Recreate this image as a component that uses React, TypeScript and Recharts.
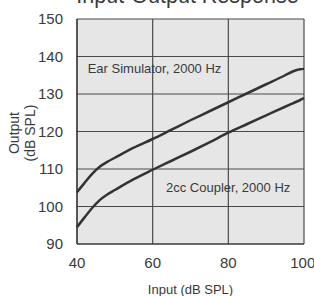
import { LineChart, Line, XAxis, YAxis, CartesianGrid, ReferenceDot } from 'recharts'

const inputLevels = [40, 42, 44, 46, 48, 50, 55, 60, 65, 70, 75, 80, 85, 90, 95, 97, 99, 100]
const earSimulator = [103.8, 106.3, 108.7, 110.6, 111.9, 113, 115.7, 118, 120.5, 123, 125.4, 127.8, 130.2, 132.6, 135, 136, 136.6, 136.7]
const coupler2cc = [94.5, 97.1, 99.6, 101.7, 103.2, 104.4, 107.3, 109.8, 112.2, 114.6, 117.1, 119.7, 122, 124.3, 126.6, 127.5, 128.4, 128.9]
const xTicks = [40, 60, 80, 100]
const yTicks = [90, 100, 110, 120, 130, 140, 150]

const data = inputLevels.map((x, i) => ({ x, ear: earSimulator[i], coupler: coupler2cc[i] }))

const FONT = '"Liberation Sans", Arial, sans-serif'
const TXT = '#3a3a3a'

export default function App() {
  return (
    <div style={{ position: 'fixed', left: 0, top: 0, width: 314, height: 296, background: '#fff', fontFamily: FONT }}>
      <LineChart width={314} height={296} data={data} margin={{ top: 19, right: 10, bottom: 0, left: 0 }}>
        <text x={187.5} y={3} textAnchor="middle" fontSize={21.5} fill={TXT} fontFamily={FONT}>
          Input-Output Response
        </text>
        <CartesianGrid stroke="#4a4a4a" strokeWidth={1.2} fill="#e6e6e6" fillOpacity={1} />
        <XAxis
          dataKey="x"
          type="number"
          domain={[40, 100]}
          ticks={xTicks}
          height={52}
          tickSize={0}
          tickMargin={13}
          axisLine={{ stroke: '#333', strokeWidth: 1.2 }}
          tickLine={false}
          tick={{ fill: TXT, fontSize: 15, fontFamily: FONT }}
          label={{ value: 'Input (dB SPL)', position: 'insideBottom', offset: 2, fill: TXT, fontSize: 13, fontFamily: FONT }}
        />
        <YAxis
          type="number"
          domain={[90, 150]}
          ticks={yTicks}
          width={77}
          tickSize={0}
          tickMargin={14}
          axisLine={{ stroke: '#333', strokeWidth: 1.2 }}
          tickLine={false}
          tick={{ fill: TXT, fontSize: 15, fontFamily: FONT }}
          label={() => (
            <text transform="rotate(-90, 22, 133)" x={22} y={133} textAnchor="middle" fontSize={14} fill={TXT} fontFamily={FONT}>
              <tspan x={22} dy="-0.2em">Output</tspan>
              <tspan x={22} dy="1.1em">(dB SPL)</tspan>
            </text>
          )}
        />
        <Line type="monotone" dataKey="ear" stroke="#333" strokeWidth={2.5} dot={false} isAnimationActive={false} />
        <Line type="monotone" dataKey="coupler" stroke="#333" strokeWidth={2.5} dot={false} isAnimationActive={false} />
        <ReferenceDot
          x={41.5}
          y={136.7}
          r={0}
          label={{ value: 'Ear Simulator, 2000 Hz', position: 'right', fill: TXT, fontSize: 13, fontFamily: FONT }}
        />
        <ReferenceDot
          x={62.2}
          y={105}
          r={0}
          label={{ value: '2cc Coupler, 2000 Hz', position: 'right', fill: TXT, fontSize: 13, fontFamily: FONT }}
        />
      </LineChart>
    </div>
  )
}
